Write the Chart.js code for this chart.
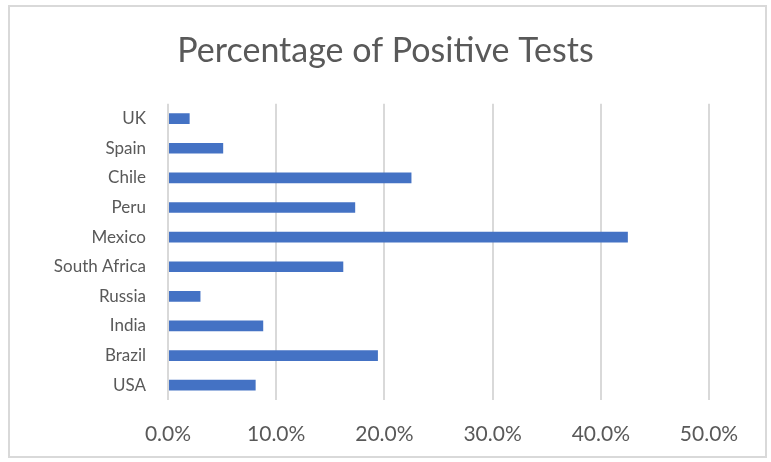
<!DOCTYPE html>
<html>
<head>
<meta charset="utf-8">
<script src="https://cdn.jsdelivr.net/npm/chart.js@4"></script>
<style>
  body { margin: 0; background: #fff; }
  #wrap { width: 771px; height: 462px; }
</style>
</head>
<body>
<div id="wrap"><canvas id="positiveChart" width="771" height="462"></canvas></div>
<script>
const countries = ['UK', 'Spain', 'Chile', 'Peru', 'Mexico', 'South Africa', 'Russia', 'India', 'Brazil', 'USA'];
const positiveRate = [2.0, 5.1, 22.5, 17.3, 42.5, 16.2, 3.0, 8.8, 19.4, 8.1];
const xTicks = [0, 10, 20, 30, 40, 50];

const textColor = '#595959';
const gridColor = '#d9d9d9';
const fontFamily = 'Lato, "Noto Sans", sans-serif';

const frame = {
    id: 'frame',
    beforeDraw(chart) {
        const c = chart.ctx;
        c.save();
        c.fillStyle = '#fff';
        c.fillRect(0, 0, chart.width, chart.height);
        c.strokeStyle = gridColor;
        c.lineWidth = 2;
        c.strokeRect(9, 6, 757, 451);
        c.restore();
    }
};

new Chart(document.getElementById('positiveChart'), {
    type: 'bar',
    data: {
        labels: countries,
        datasets: [{
            data: positiveRate,
            backgroundColor: '#4472c4',
            borderWidth: 0,
            categoryPercentage: 1,
            barPercentage: 0.36
        }]
    },
    options: {
        indexAxis: 'y',
        responsive: false,
        animation: false,
        layout: { padding: 0 },
        plugins: {
            legend: { display: false },
            tooltip: { enabled: false },
            title: {
                display: true,
                text: 'Percentage of Positive Tests',
                color: textColor,
                font: { family: fontFamily, size: 34, weight: 'normal' },
                padding: { top: 31, bottom: 32 }
            }
        },
        scales: {
            x: {
                min: 0,
                max: 50,
                afterBuildTicks: scale => { scale.ticks = xTicks.map(v => ({ value: v })); },
                afterFit: scale => { scale.height = 62; },
                border: { display: false },
                grid: { color: gridColor, lineWidth: 2, drawTicks: false },
                ticks: {
                    color: textColor,
                    padding: 22,
                    font: { family: fontFamily, size: 21 },
                    callback: v => v.toFixed(1) + '%'
                }
            },
            y: {
                afterFit: scale => { scale.width = 168; },
                border: { display: false },
                grid: { display: false, drawTicks: false },
                ticks: {
                    color: textColor,
                    padding: 22,
                    font: { family: fontFamily, size: 17 }
                }
            },
            // empty right-hand margin so the title stays centred on the whole frame
            gap: {
                type: 'linear',
                axis: 'y',
                position: 'right',
                afterFit: scale => { scale.width = 62; },
                border: { display: false },
                grid: { display: false, drawTicks: false },
                ticks: { display: false }
            }
        }
    },
    plugins: [frame]
});
</script>
</body>
</html>
